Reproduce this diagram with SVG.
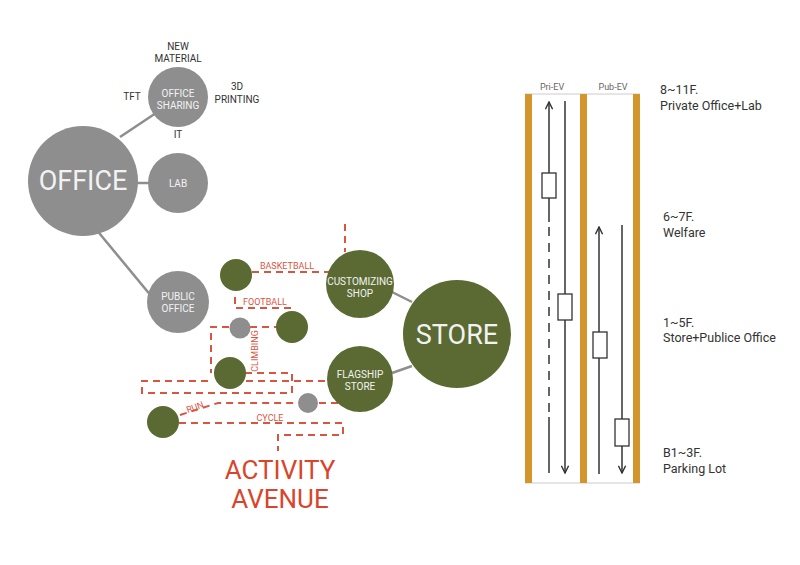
<svg xmlns="http://www.w3.org/2000/svg" width="800" height="565" viewBox="0 0 800 565">
<defs>
<style>
.gc{fill:#8e8e8e}
.grn{fill:#5b6a32}
.ct{font-family:Roboto,"Liberation Sans",sans-serif;fill:#f2f2f2;text-anchor:middle}
.lbl{font-family:Roboto,"Liberation Sans",sans-serif;fill:#333;font-size:10px;text-anchor:middle}
.rl{font-family:Roboto,"Liberation Sans",sans-serif;fill:#d9553f;font-size:9px;text-anchor:middle}
.link{stroke:#8e8e8e;stroke-width:2.5;fill:none}
.dash{stroke:#d9553f;stroke-width:2;stroke-dasharray:7 5;fill:none}
.bar{fill:#d4952c}
.ev{stroke:#333;stroke-width:1.5;fill:none}
.box{stroke:#333;stroke-width:1.3;fill:#fff}
.fl{font-family:Roboto,"Liberation Sans",sans-serif;fill:#333;font-size:12.5px}
.evl{font-family:Roboto,"Liberation Sans",sans-serif;fill:#666;font-size:9px;text-anchor:middle}
</style>
<marker id="ah" viewBox="0 0 10 10" refX="9" refY="5" markerWidth="9" markerHeight="9" orient="auto-start-reverse" markerUnits="userSpaceOnUse">
<path d="M1,1 L9,5 L1,9" fill="none" stroke="#333" stroke-width="1.6"/>
</marker>
</defs>
<rect width="800" height="565" fill="#fff"/>

<g id="connectors">
<line class="link" x1="120" y1="137" x2="156" y2="113"/>
<line class="link" x1="137" y1="183" x2="149" y2="183"/>
<line class="link" x1="95" y1="228" x2="152" y2="297"/>
<line class="link" x1="392" y1="292" x2="412" y2="302"/>
<line class="link" x1="392" y1="373" x2="412" y2="366"/>
<path class="dash" d="M345,224 V252"/>
<path class="dash" d="M252,272 H330"/>
<path class="dash" d="M235,297 V308 H293"/>
<path class="dash" d="M250,327 H277"/>
<path class="dash" d="M229,327 H211 V373"/>
<path class="dash" d="M245,373 H292 V393 H142 V381 H213"/>
<path class="dash" d="M246,381 H332"/>
<path class="dash" d="M180,415 L218,403 H298"/>
<path class="dash" d="M319,403 H338"/>
<path class="dash" d="M179,423 H343 V435 H278 V451"/>
</g>

<g id="office">
<circle class="gc" cx="83" cy="181" r="55"/>
<text class="ct" x="83" y="190" font-size="27">OFFICE</text>
</g>
<g id="office-sharing">
<circle class="gc" cx="178" cy="97" r="30"/>
<text class="ct" x="178" y="97" font-size="10">OFFICE</text>
<text class="ct" x="178" y="109" font-size="10">SHARING</text>
<text class="lbl" x="178" y="50">NEW</text>
<text class="lbl" x="178" y="62">MATERIAL</text>
<text class="lbl" x="132" y="100">TFT</text>
<text class="lbl" x="237" y="90">3D</text>
<text class="lbl" x="237" y="103">PRINTING</text>
<text class="lbl" x="178" y="138">IT</text>
</g>
<g id="lab">
<circle class="gc" cx="178" cy="183" r="30"/>
<text class="ct" x="178" y="187" font-size="10">LAB</text>
</g>
<g id="public-office">
<circle class="gc" cx="178" cy="302" r="31"/>
<text class="ct" x="178" y="300" font-size="10">PUBLIC</text>
<text class="ct" x="178" y="312" font-size="10">OFFICE</text>
</g>
<g id="store">
<circle class="grn" cx="457" cy="334" r="54"/>
<text class="ct" x="457" y="344" font-size="27">STORE</text>
</g>
<g id="customizing-shop">
<circle class="grn" cx="360" cy="284" r="34"/>
<text class="ct" x="360" y="285" font-size="10">CUSTOMIZING</text>
<text class="ct" x="360" y="297" font-size="10">SHOP</text>
</g>
<g id="flagship-store">
<circle class="grn" cx="360" cy="379" r="33"/>
<text class="ct" x="360" y="378" font-size="10">FLAGSHIP</text>
<text class="ct" x="360" y="390" font-size="10">STORE</text>
</g>
<g id="basketball">
<circle class="grn" cx="236" cy="275" r="16"/>
<text class="rl" x="287" y="269">BASKETBALL</text>
</g>
<g id="football">
<circle class="grn" cx="292" cy="327" r="16"/>
<text class="rl" x="265" y="305">FOOTBALL</text>
</g>
<g id="climbing">
<circle class="gc" cx="240" cy="328" r="10.5"/>
<circle class="grn" cx="230" cy="373" r="16"/>
<text class="rl" transform="translate(258,351) rotate(-90)">CLIMBING</text>
</g>
<g id="run">
<circle class="grn" cx="163" cy="422" r="16"/>
<text class="rl" transform="translate(196,410) rotate(-20)">RUN</text>
</g>
<g id="cycle">
<circle class="gc" cx="308" cy="403" r="10"/>
<text class="rl" x="270" y="421">CYCLE</text>
</g>
<g id="activity-avenue">
<text x="280" y="479" font-family="Roboto,'Liberation Sans',sans-serif" font-size="26" fill="#d9452b" text-anchor="middle">ACTIVITY</text>
<text x="280" y="508" font-family="Roboto,'Liberation Sans',sans-serif" font-size="26" fill="#d9452b" text-anchor="middle">AVENUE</text>
</g>

<g id="elevator-section">
<line x1="525" y1="94" x2="640" y2="94" stroke="#ccc" stroke-width="1"/>
<line x1="525" y1="483" x2="640" y2="483" stroke="#ccc" stroke-width="1"/>
<rect class="bar" x="525" y="94" width="7" height="389"/>
<rect class="bar" x="580" y="94" width="7" height="389"/>
<rect class="bar" x="633" y="94" width="7" height="389"/>
<text class="evl" x="552" y="90">Pri-EV</text>
<text class="evl" x="613" y="90">Pub-EV</text>
</g>
<g id="pri-ev-up">
<line class="ev" x1="549" y1="102" x2="549" y2="222" marker-start="url(#ah)" stroke-width="2"/>
<line class="ev" x1="549" y1="227" x2="549" y2="412" stroke-dasharray="9 7" stroke-width="2"/>
<line class="ev" x1="549" y1="417" x2="549" y2="473"/>
<rect class="box" x="542" y="173" width="14" height="25"/>
</g>
<g id="pri-ev-down">
<line class="ev" x1="565" y1="101" x2="565" y2="473" marker-end="url(#ah)"/>
<rect class="box" x="558" y="294" width="14" height="26"/>
</g>
<g id="pub-ev-up">
<line class="ev" x1="599" y1="227" x2="599" y2="474" marker-start="url(#ah)"/>
<rect class="box" x="593" y="332" width="14" height="26"/>
</g>
<g id="pub-ev-down">
<line class="ev" x1="622" y1="225" x2="622" y2="473" marker-end="url(#ah)"/>
<rect class="box" x="615" y="419" width="14" height="27"/>
</g>
<g id="floor-labels">
<text class="fl" x="660" y="94">8~11F.</text>
<text class="fl" x="660" y="110">Private Office+Lab</text>
<text class="fl" x="663" y="221">6~7F.</text>
<text class="fl" x="663" y="237">Welfare</text>
<text class="fl" x="663" y="327">1~5F.</text>
<text class="fl" x="663" y="342">Store+Publice Office</text>
<text class="fl" x="663" y="457">B1~3F.</text>
<text class="fl" x="663" y="473">Parking Lot</text>
</g>
</svg>
